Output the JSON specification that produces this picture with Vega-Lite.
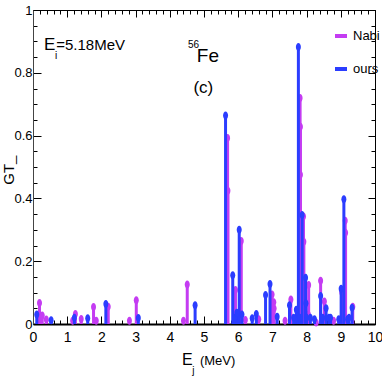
{
 "$schema": "https://vega.github.io/schema/vega-lite/v6.json",
 "width": 342, "height": 314,
 "autosize": {"type": "none"},
 "padding": {"left": 33, "top": 10, "right": 7, "bottom": 58},
 "background": "white",
 "config": {"view": {"stroke": "black", "strokeWidth": 1}, "font": "Liberation Sans"},
 "datasets": {"gt": [
  {"s":"Nabi","e":0.19,"gt":0.067},{"s":"Nabi","e":0.27,"gt":0.027},{"s":"Nabi","e":0.39,"gt":0.014},
  {"s":"Nabi","e":1.16,"gt":0.01},{"s":"Nabi","e":1.24,"gt":0.032},{"s":"Nabi","e":1.41,"gt":0.016},
  {"s":"Nabi","e":1.77,"gt":0.054},{"s":"Nabi","e":1.85,"gt":0.01},{"s":"Nabi","e":2.2,"gt":0.055},
  {"s":"Nabi","e":2.82,"gt":0.01},{"s":"Nabi","e":3.02,"gt":0.076},{"s":"Nabi","e":4.4,"gt":0.01},
  {"s":"Nabi","e":4.51,"gt":0.126},{"s":"Nabi","e":5.69,"gt":0.592},{"s":"Nabi","e":5.7,"gt":0.424},
  {"s":"Nabi","e":5.92,"gt":0.108},{"s":"Nabi","e":6.09,"gt":0.264},{"s":"Nabi","e":6.21,"gt":0.013},
  {"s":"Nabi","e":6.6,"gt":0.015},{"s":"Nabi","e":6.99,"gt":0.094},{"s":"Nabi","e":7.04,"gt":0.069},
  {"s":"Nabi","e":7.05,"gt":0.049},{"s":"Nabi","e":7.37,"gt":0.01},{"s":"Nabi","e":7.54,"gt":0.078},
  {"s":"Nabi","e":7.81,"gt":0.72},{"s":"Nabi","e":7.82,"gt":0.628},{"s":"Nabi","e":7.82,"gt":0.475},
  {"s":"Nabi","e":7.91,"gt":0.342},{"s":"Nabi","e":7.92,"gt":0.262},{"s":"Nabi","e":8.06,"gt":0.124},
  {"s":"Nabi","e":8.05,"gt":0.03},{"s":"Nabi","e":8.28,"gt":0.005},{"s":"Nabi","e":8.41,"gt":0.138},
  {"s":"Nabi","e":8.52,"gt":0.072},{"s":"Nabi","e":8.79,"gt":0.01},{"s":"Nabi","e":9.03,"gt":0.1},
  {"s":"Nabi","e":9.13,"gt":0.329},{"s":"Nabi","e":9.14,"gt":0.291},{"s":"Nabi","e":9.35,"gt":0.055},
  {"s":"ours","e":0.11,"gt":0.03},{"s":"ours","e":0.53,"gt":0.012},{"s":"ours","e":1.21,"gt":0.02},
  {"s":"ours","e":1.6,"gt":0.018},{"s":"ours","e":2.13,"gt":0.064},{"s":"ours","e":3.08,"gt":0.019},
  {"s":"ours","e":4.74,"gt":0.06},{"s":"ours","e":5.63,"gt":0.664},{"s":"ours","e":5.84,"gt":0.155},
  {"s":"ours","e":5.9,"gt":0.02},{"s":"ours","e":5.96,"gt":0.036},{"s":"ours","e":6.03,"gt":0.3},
  {"s":"ours","e":6.11,"gt":0.03},{"s":"ours","e":6.41,"gt":0.018},{"s":"ours","e":6.53,"gt":0.032},
  {"s":"ours","e":6.8,"gt":0.092},{"s":"ours","e":6.93,"gt":0.127},{"s":"ours","e":7.14,"gt":0.023},
  {"s":"ours","e":7.5,"gt":0.06},{"s":"ours","e":7.62,"gt":0.02},{"s":"ours","e":7.66,"gt":0.015},
  {"s":"ours","e":7.7,"gt":0.045},{"s":"ours","e":7.76,"gt":0.882},{"s":"ours","e":7.8,"gt":0.02},
  {"s":"ours","e":7.87,"gt":0.347},{"s":"ours","e":7.97,"gt":0.147},{"s":"ours","e":7.98,"gt":0.066},
  {"s":"ours","e":8.0,"gt":0.02},{"s":"ours","e":8.11,"gt":0.02},{"s":"ours","e":8.23,"gt":0.015},
  {"s":"ours","e":8.41,"gt":0.089},{"s":"ours","e":8.47,"gt":0.02},{"s":"ours","e":8.57,"gt":0.05},
  {"s":"ours","e":8.65,"gt":0.02},{"s":"ours","e":8.7,"gt":0.02},{"s":"ours","e":8.94,"gt":0.015},
  {"s":"ours","e":9.01,"gt":0.112},{"s":"ours","e":9.09,"gt":0.397},{"s":"ours","e":9.2,"gt":0.015},
  {"s":"ours","e":9.24,"gt":0.02},{"s":"ours","e":9.33,"gt":0.052}
 ],
 "one": [{}]},
 "resolve": {"axis": {"x": "independent", "y": "independent"}},
 "layer": [
  {"data": {"name": "gt"}, "transform": [{"filter": "datum.s == 'Nabi'"}],
   "mark": {"type": "rule", "strokeWidth": 3},
   "encoding": {
    "x": {"field": "e", "type": "quantitative", "scale": {"domain": [0, 10], "nice": false, "zero": false},
     "axis": {"orient": "bottom", "title": null, "grid": false,
      "values": [0,0.2,0.4,0.6,0.8,1,1.2,1.4,1.6,1.8,2,2.2,2.4,2.6,2.8,3,3.2,3.4,3.6,3.8,4,4.2,4.4,4.6,4.8,5,5.2,5.4,5.6,5.8,6,6.2,6.4,6.6,6.8,7,7.2,7.4,7.6,7.8,8,8.2,8.4,8.6,8.8,9,9.2,9.4,9.6,9.8,10],
      "tickSize": {"condition": {"test": "abs(datum.value - round(datum.value)) < 0.001", "value": -8}, "value": -4},
      "tickColor": "black", "tickWidth": 1,
      "labelExpr": "abs(datum.value - round(datum.value)) < 0.001 ? format(datum.value, 'd') : ''",
      "labelFont": "Liberation Sans", "labelFontSize": 14, "labelColor": "black", "labelPadding": 14,
      "labelFlush": false, "labelOverlap": false,
      "domainColor": "black", "domainWidth": 2}},
    "y": {"field": "gt", "type": "quantitative", "scale": {"domain": [0, 1], "nice": false},
     "axis": {"orient": "left", "title": null, "grid": false,
      "values": [0,0.05,0.1,0.15,0.2,0.25,0.3,0.35,0.4,0.45,0.5,0.55,0.6,0.65,0.7,0.75,0.8,0.85,0.9,0.95,1],
      "tickSize": {"condition": {"test": "abs(datum.value*5 - round(datum.value*5)) < 0.001", "value": -8}, "value": -4},
      "tickColor": "black", "tickWidth": 1,
      "labelExpr": "abs(datum.value*5 - round(datum.value*5)) < 0.001 ? format(datum.value, '~g') : ''",
      "labelFont": "Liberation Sans", "labelFontSize": 13, "labelColor": "black", "labelPadding": 9,
      "labelFlush": false, "labelOverlap": false,
      "domainColor": "#444", "domainWidth": 1}},
    "y2": {"datum": 0},
    "color": {"field": "s", "type": "nominal",
     "scale": {"domain": ["Nabi", "ours"], "range": ["#c43cf2", "#2b3dff"]},
     "legend": {"orient": "none", "legendX": 300, "legendY": 18, "title": null,
      "symbolType": "stroke", "symbolStrokeWidth": 4, "symbolSize": 144,
      "labelFont": "Liberation Sans", "labelFontSize": 13, "labelColor": "black", "rowPadding": 17}}
   }},
  {"data": {"name": "gt"}, "transform": [{"filter": "datum.s == 'Nabi'"}],
   "mark": {"type": "point", "filled": true, "opacity": 1, "size": 64, "shape": "M0,-1A0.625,1,0,1,1,0,1A0.625,1,0,1,1,0,-1Z"},
   "encoding": {
    "x": {"field": "e", "type": "quantitative", "axis": null},
    "y": {"field": "gt", "type": "quantitative", "axis": null},
    "color": {"field": "s", "type": "nominal", "legend": null}
   }},
  {"data": {"name": "gt"}, "transform": [{"filter": "datum.s == 'ours'"}],
   "mark": {"type": "rule", "strokeWidth": 3},
   "encoding": {
    "x": {"field": "e", "type": "quantitative",
     "axis": {"orient": "top", "title": null, "grid": false, "labels": false,
      "values": [0,0.2,0.4,0.6,0.8,1,1.2,1.4,1.6,1.8,2,2.2,2.4,2.6,2.8,3,3.2,3.4,3.6,3.8,4,4.2,4.4,4.6,4.8,5,5.2,5.4,5.6,5.8,6,6.2,6.4,6.6,6.8,7,7.2,7.4,7.6,7.8,8,8.2,8.4,8.6,8.8,9,9.2,9.4,9.6,9.8,10],
      "tickSize": {"condition": {"test": "abs(datum.value - round(datum.value)) < 0.001", "value": -7}, "value": -4},
      "tickColor": "black", "domainColor": "black", "domainWidth": 1}},
    "y": {"field": "gt", "type": "quantitative",
     "axis": {"orient": "right", "title": null, "grid": false, "labels": false,
      "values": [0,0.05,0.1,0.15,0.2,0.25,0.3,0.35,0.4,0.45,0.5,0.55,0.6,0.65,0.7,0.75,0.8,0.85,0.9,0.95,1],
      "tickSize": {"condition": {"test": "abs(datum.value*5 - round(datum.value*5)) < 0.001", "value": -7}, "value": -4},
      "tickColor": "black", "domainColor": "black", "domainWidth": 1}},
    "y2": {"datum": 0},
    "color": {"field": "s", "type": "nominal", "legend": null}
   }},
  {"data": {"name": "gt"}, "transform": [{"filter": "datum.s == 'ours'"}],
   "mark": {"type": "point", "filled": true, "opacity": 1, "size": 64, "shape": "M0,-1A0.625,1,0,1,1,0,1A0.625,1,0,1,1,0,-1Z"},
   "encoding": {
    "x": {"field": "e", "type": "quantitative", "axis": null},
    "y": {"field": "gt", "type": "quantitative", "axis": null},
    "color": {"field": "s", "type": "nominal", "legend": null}
   }},
  {"data": {"name": "one"},
   "mark": {"type": "text", "text": "E", "align": "left", "baseline": "alphabetic", "fontSize": 17, "font": "Liberation Sans", "color": "black"},
   "encoding": {"x": {"datum": 0.32, "type": "quantitative", "axis": null}, "y": {"datum": 0.873, "type": "quantitative", "axis": null}}},
  {"data": {"name": "one"},
   "mark": {"type": "text", "text": "i", "align": "left", "baseline": "alphabetic", "fontSize": 10, "font": "Liberation Sans", "color": "black"},
   "encoding": {"x": {"datum": 0.64, "type": "quantitative", "axis": null}, "y": {"datum": 0.844, "type": "quantitative", "axis": null}}},
  {"data": {"name": "one"},
   "mark": {"type": "text", "text": "=5.18MeV", "align": "left", "baseline": "alphabetic", "fontSize": 15, "font": "Liberation Sans", "color": "black"},
   "encoding": {"x": {"datum": 0.68, "type": "quantitative", "axis": null}, "y": {"datum": 0.873, "type": "quantitative", "axis": null}}},
  {"data": {"name": "one"},
   "mark": {"type": "text", "text": "56", "align": "left", "baseline": "alphabetic", "fontSize": 10, "font": "Liberation Sans", "color": "black"},
   "encoding": {"x": {"datum": 4.53, "type": "quantitative", "axis": null}, "y": {"datum": 0.879, "type": "quantitative", "axis": null}}},
  {"data": {"name": "one"},
   "mark": {"type": "text", "text": "Fe", "align": "left", "baseline": "alphabetic", "fontSize": 19, "font": "Liberation Sans", "color": "black"},
   "encoding": {"x": {"datum": 4.79, "type": "quantitative", "axis": null}, "y": {"datum": 0.834, "type": "quantitative", "axis": null}}},
  {"data": {"name": "one"},
   "mark": {"type": "text", "text": "(c)", "align": "left", "baseline": "alphabetic", "fontSize": 17, "font": "Liberation Sans", "color": "black"},
   "encoding": {"x": {"datum": 4.69, "type": "quantitative", "axis": null}, "y": {"datum": 0.735, "type": "quantitative", "axis": null}}},
  {"data": {"name": "one"},
   "mark": {"type": "text", "text": "E", "align": "left", "baseline": "alphabetic", "fontSize": 16, "font": "Liberation Sans", "color": "black"},
   "encoding": {"x": {"datum": 4.36, "type": "quantitative", "axis": null}, "y": {"datum": -0.131, "type": "quantitative", "axis": null}}},
  {"data": {"name": "one"},
   "mark": {"type": "text", "text": "j", "align": "left", "baseline": "alphabetic", "fontSize": 10, "font": "Liberation Sans", "color": "black"},
   "encoding": {"x": {"datum": 4.66, "type": "quantitative", "axis": null}, "y": {"datum": -0.158, "type": "quantitative", "axis": null}}},
  {"data": {"name": "one"},
   "mark": {"type": "text", "text": "(MeV)", "align": "left", "baseline": "alphabetic", "fontSize": 13, "font": "Liberation Sans", "color": "black"},
   "encoding": {"x": {"datum": 4.88, "type": "quantitative", "axis": null}, "y": {"datum": -0.131, "type": "quantitative", "axis": null}}},
  {"data": {"name": "one"},
   "mark": {"type": "text", "text": "GT_", "align": "center", "baseline": "middle", "angle": 270, "fontSize": 15, "font": "Liberation Sans", "color": "black"},
   "encoding": {"x": {"datum": -0.7, "type": "quantitative", "axis": null}, "y": {"datum": 0.49, "type": "quantitative", "axis": null}}}
 ]
}
